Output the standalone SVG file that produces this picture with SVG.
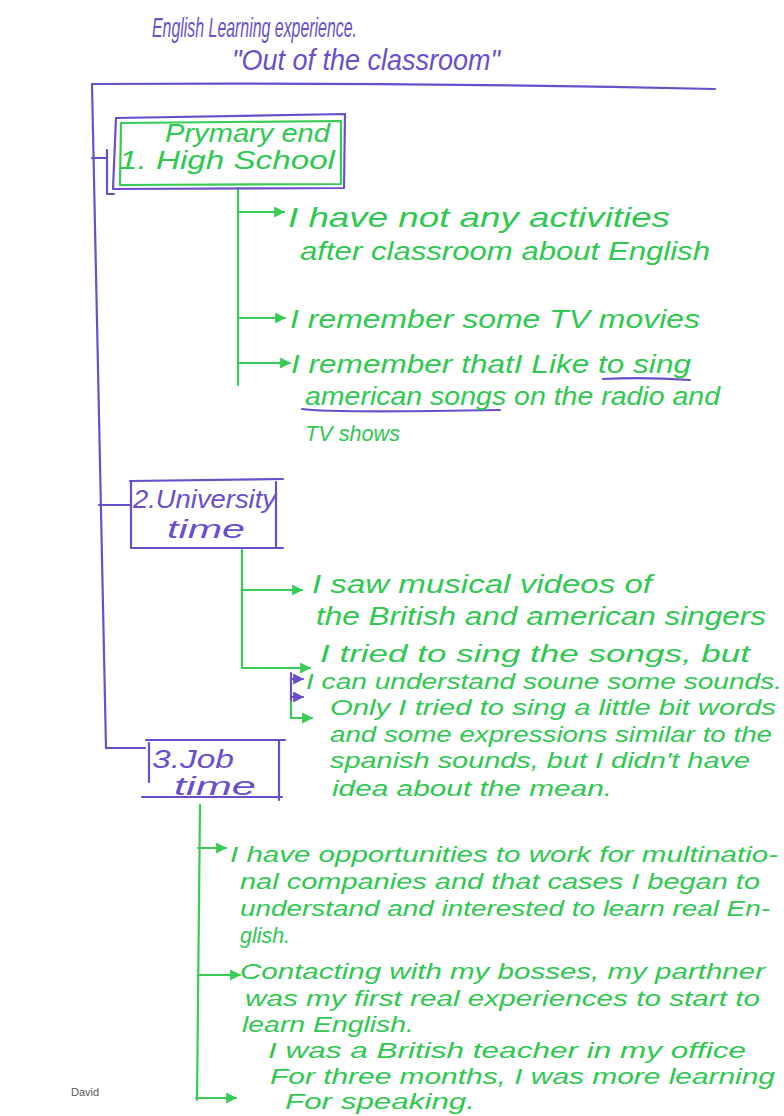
<svg xmlns="http://www.w3.org/2000/svg" width="784" height="1116" viewBox="0 0 784 1116">
<defs>
<style>
.p{stroke:#6a4fcc;fill:none;stroke-width:2.2;stroke-linecap:round;stroke-linejoin:round}
.g{stroke:#36cc55;fill:none;stroke-width:2.2;stroke-linecap:round;stroke-linejoin:round}
.t{font-family:"Liberation Sans",Arial,sans-serif;font-style:italic;font-size:26px}
.s{font-size:22px}
.tp{fill:#6a4fcc}
.tg{fill:#2fc850}
</style>
<marker id="ag" viewBox="0 0 10 10" refX="9" refY="5" markerWidth="5" markerHeight="5" orient="auto"><path d="M0,0 L10,5 L0,10 z" fill="#36cc55"/></marker>
<marker id="ap" viewBox="0 0 10 10" refX="9" refY="5" markerWidth="5" markerHeight="5" orient="auto"><path d="M0,0 L10,5 L0,10 z" fill="#6a4fcc"/></marker>
</defs>
<rect width="784" height="1116" fill="#ffffff"/>

<g id="title" class="t tp">
<text x="152" y="37" font-size="28" textLength="205" lengthAdjust="spacingAndGlyphs">English Learning experience.</text>
<text x="232" y="70" font-size="30" textLength="268" lengthAdjust="spacingAndGlyphs">"Out of the classroom"</text>
</g>

<g id="connectors">
<path class="p" d="M92,84 Q400,82 715,89"/>
<path class="p" d="M92,84 L106,748"/>
<path class="p" d="M92,158 L107,158"/>
<path class="p" d="M99,505 L130,505"/>
<path class="p" d="M106,748 L145,748"/>
<path class="g" d="M238,188 L238,385"/>
<path class="g" d="M238,212 L284,212" marker-end="url(#ag)"/>
<path class="g" d="M238,318 L285,318" marker-end="url(#ag)"/>
<path class="g" d="M238,363 L290,363" marker-end="url(#ag)"/>
<path class="g" d="M242,550 L242,668 L310,668" marker-end="url(#ag)"/>
<path class="g" d="M242,590 L302,590" marker-end="url(#ag)"/>
<path class="p" d="M291,673 L291,702"/>
<path class="p" d="M291,679 L303,679" marker-end="url(#ap)"/>
<path class="p" d="M291,697 L303,697" marker-end="url(#ap)"/>
<path class="g" d="M291,702 L291,718 L312,718" marker-end="url(#ag)"/>
<path class="g" d="M200,805 L197,1100"/>
<path class="g" d="M198,848 L226,848" marker-end="url(#ag)"/>
<path class="g" d="M198,975 L240,975" marker-end="url(#ag)"/>
<path class="g" d="M196,1098 L236,1098" marker-end="url(#ag)"/>
<path class="p" d="M603,379 Q645,377 690,380"/>
<path class="p" d="M302,409 Q330,413 500,410"/>
</g>

<g id="box1">
<path class="p" d="M116,118 L345,114 L344,188 L113,189 Z"/>
<path class="g" d="M121,123 L341,121 L341,184 L120,185 Z"/>
<path class="p" d="M107,150 L107,194 L114,194"/>
<text class="t tg" x="165" y="142" textLength="165" lengthAdjust="spacingAndGlyphs">Prymary end</text>
<text class="t tg" x="119" y="169" textLength="216" lengthAdjust="spacingAndGlyphs">1. High School</text>
</g>

<g id="box2">
<path class="p" d="M130,481 L283,479 M131,481 L131,548 L283,548 M276,482 L276,548"/>
<text class="t tp" x="133" y="508" textLength="143" lengthAdjust="spacingAndGlyphs">2.University</text>
<text class="t tp" x="167" y="538" textLength="78" lengthAdjust="spacingAndGlyphs">time</text>
</g>

<g id="box3">
<path class="p" d="M146,740 L285,740 M279,740 L279,800 M142,797 L282,797 M149,743 L149,782"/>
<text class="t tp" x="152" y="768" textLength="82" lengthAdjust="spacingAndGlyphs">3.Job</text>
<text class="t tp" x="174" y="795" font-size="24" textLength="82" lengthAdjust="spacingAndGlyphs">time</text>
</g>

<g id="items1" class="t tg">
<text x="288" y="227" font-size="28" textLength="382" lengthAdjust="spacingAndGlyphs">I have not any activities</text>
<text x="300" y="260" textLength="410" lengthAdjust="spacingAndGlyphs">after classroom about English</text>
<text x="290" y="328" textLength="410" lengthAdjust="spacingAndGlyphs">I remember some TV movies</text>
<text x="291" y="373" textLength="400" lengthAdjust="spacingAndGlyphs">I remember thatI Like to sing</text>
<text x="305" y="405" textLength="415" lengthAdjust="spacingAndGlyphs">american songs on the radio and</text>
<text x="305" y="441" class="s" textLength="95" lengthAdjust="spacingAndGlyphs">TV shows</text>
</g>

<g id="items2" class="t tg">
<text x="312" y="593" textLength="340" lengthAdjust="spacingAndGlyphs">I saw musical videos of</text>
<text x="316" y="625" textLength="450" lengthAdjust="spacingAndGlyphs">the British and american singers</text>
<text x="320" y="662" font-size="24" textLength="430" lengthAdjust="spacingAndGlyphs">I tried to sing the songs, but</text>
<text x="306" y="689" class="s" textLength="476" lengthAdjust="spacingAndGlyphs">I can understand soune some sounds.</text>
<text x="330" y="715" class="s" textLength="446" lengthAdjust="spacingAndGlyphs">Only I tried to sing a little bit words</text>
<text x="330" y="742" class="s" textLength="442" lengthAdjust="spacingAndGlyphs">and some expressions similar to the</text>
<text x="330" y="768" class="s" textLength="420" lengthAdjust="spacingAndGlyphs">spanish sounds, but I didn't have</text>
<text x="332" y="796" class="s" textLength="280" lengthAdjust="spacingAndGlyphs">idea about the mean.</text>
</g>

<g id="items3" class="t tg" font-size="22">
<text x="230" y="862" class="s" textLength="548" lengthAdjust="spacingAndGlyphs">I have opportunities to work for multinatio-</text>
<text x="240" y="889" class="s" textLength="520" lengthAdjust="spacingAndGlyphs">nal companies and that cases I began to</text>
<text x="240" y="916" class="s" textLength="530" lengthAdjust="spacingAndGlyphs">understand and interested to learn real En-</text>
<text x="240" y="943" class="s" textLength="50" lengthAdjust="spacingAndGlyphs">glish.</text>
<text x="240" y="979" class="s" textLength="525" lengthAdjust="spacingAndGlyphs">Contacting with my bosses, my parthner</text>
<text x="245" y="1006" class="s" textLength="515" lengthAdjust="spacingAndGlyphs">was my first real experiences to start to</text>
<text x="242" y="1032" class="s" textLength="172" lengthAdjust="spacingAndGlyphs">learn English.</text>
<text x="268" y="1058" class="s" textLength="478" lengthAdjust="spacingAndGlyphs">I was a British teacher in my office</text>
<text x="270" y="1084" class="s" textLength="505" lengthAdjust="spacingAndGlyphs">For three months, I was more learning</text>
<text x="285" y="1109" class="s" textLength="190" lengthAdjust="spacingAndGlyphs">For speaking.</text>
</g>

<g id="signature">
<text x="71" y="1096" font-family="Liberation Sans,Arial,sans-serif" font-size="11" fill="#555555">David</text>
</g>
</svg>
